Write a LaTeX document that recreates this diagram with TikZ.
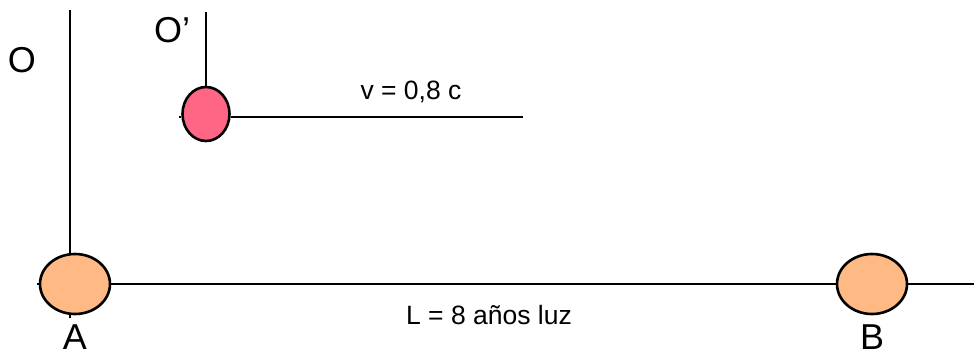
\documentclass[tikz,border=0pt]{standalone}
\usepackage{fontspec}
\setmainfont{Liberation Sans}
\usetikzlibrary{shapes.geometric}
\definecolor{cuerpo}{HTML}{FFB985}
\definecolor{nave}{HTML}{FF6685}
\tikzset{
    eje/.style = {line width=2.6pt},
    esfera/.style = {ellipse, draw, line width=2.6pt, fill=cuerpo, inner sep=0pt,
        minimum width=70pt, minimum height=60pt},
    grande/.style = {font=\fontsize{36}{40}\selectfont, inner sep=0pt},
    chica/.style = {font=\fontsize{26.5}{30}\selectfont, inner sep=0pt}
}
\begin{document}
\begin{tikzpicture}[x=1pt, y=-1pt]
        \useasboundingbox (0,0) rectangle (974,356);
        \node[esfera] (A) at (75,284) {};
        \node[esfera] (B) at (872,284) {};
        \node[esfera, fill=nave, minimum width=47pt, minimum height=54pt] (P) at (206,114) {};
        \coordinate (otop) at (70,10);
        \coordinate (obot) at (70,318);
        \coordinate (ptop) at (206,12);
        \coordinate (lini) at (37,284);
        \coordinate (lfin) at (974,284);
        \coordinate (vini) at (179,117);
        \coordinate (vfin) at (523,117);
        \draw[eje] (otop) -- (otop |- A.north);
        \draw[eje] (otop |- A.south) -- (obot);
        \draw[eje] (lini) -- (A.west);
        \draw[eje] (A.east) -- (B.west);
        \draw[eje] (B.east) -- (lfin);
        \draw[eje] (ptop) -- (P.north);
        \draw[eje] (vini) -- (vini -| P.west);
        \draw[eje] (vfin -| P.east) -- (vfin);
        \node[grande] (O) at (22,60) {O};
        \node[grande] (Oprima) at (172,30) {O’};
        \node[grande] (Aetq) at (75,337) {A};
        \node[grande] (Betq) at (872,337) {B};
        \node[chica] (vel) at (411,92) {v = 0,8 c};
        \node[chica] (dist) at (489,315) {L = 8 años luz};
\end{tikzpicture}
\end{document}
